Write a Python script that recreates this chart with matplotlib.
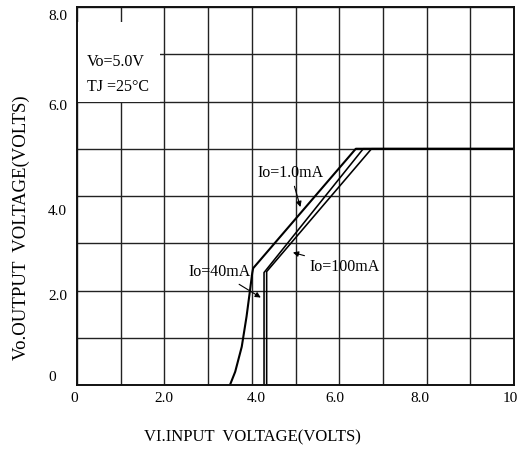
import matplotlib
matplotlib.use("Agg")
import matplotlib.pyplot as plt
from matplotlib.patches import Rectangle

# Vo vs Vi for three load currents
vin_1ma = [3.50, 3.62, 3.77, 3.88, 3.96, 4.01, 4.03, 6.38, 10.0]
vo_1ma = [0.0, 0.28, 0.81, 1.45, 2.01, 2.37, 2.47, 5.0, 5.0]

vin_40ma = [4.28, 4.28, 6.55, 10.0]
vo_40ma = [0.0, 2.38, 5.0, 5.0]

vin_100ma = [4.34, 4.34, 6.74, 10.0]
vo_100ma = [0.0, 2.40, 5.0, 5.0]

xticklabels = ["0", "2.0", "4.0", "6.0", "8.0", "10"]
yticklabels = ["0", "2.0", "4.0", "6.0", "8.0"]

# where the scanned labels actually sit (they are a bit off the grid)
xlabel_pos = [-0.07, 1.99, 4.11, 5.90, 7.85, 9.91]
ylabel_pos = [0.16, 1.87, 3.67, 5.885, 7.79]

plt.rcParams["font.family"] = ["Liberation Serif", "DejaVu Serif"]

fig = plt.figure(figsize=(5.22, 4.49), dpi=100)
ax = fig.add_axes([77 / 522, 1 - 385 / 449, 437 / 522, 378 / 449])

ax.set_xlim(0, 10)
ax.set_ylim(0, 8)
ax.set_xticks(range(0, 11))
ax.set_yticks(range(0, 9))
ax.set_xticklabels([])
ax.set_yticklabels([])
ax.tick_params(length=0)
ax.grid(True, color="#222222", linewidth=1.0)
for s in ax.spines.values():
    s.set_linewidth(1.4)
    s.set_color("#111111")
    s.set_zorder(5)

for x, lab in zip(xlabel_pos, xticklabels):
    ax.text(x, -0.28, lab, ha="center", va="center", fontsize=11, clip_on=False)
for y, lab in zip(ylabel_pos, yticklabels):
    if lab == "0":
        ax.text(-0.57, y, lab, ha="center", va="center", fontsize=11)
    else:
        ax.text(-0.23, y, lab, ha="right", va="center", fontsize=11)

ax.plot(vin_1ma, vo_1ma, color="black", linewidth=1.5, zorder=3)
ax.plot(vin_40ma, vo_40ma, color="black", linewidth=1.15, zorder=3)
ax.plot(vin_100ma, vo_100ma, color="black", linewidth=1.15, zorder=3)

# white patch behind the conditions text
ax.add_patch(Rectangle((0, 6.0), 1.9, 1.69, facecolor="white", edgecolor="none", zorder=2))
ax.text(0.22, 6.84, "Vo=5.0V", fontsize=11.5, va="center", ha="left", zorder=4)
ax.text(0.22, 6.30, "TJ =25°C", fontsize=11.5, va="center", ha="left", zorder=4)

arrow = dict(arrowstyle="-|>", color="black", lw=0.8, mutation_scale=8)
ax.annotate("Io=1.0mA", xy=(5.13, 3.71), xytext=(4.13, 4.49), fontsize=11.5,
            va="center", ha="left", arrowprops=arrow, zorder=4)
ax.annotate("Io=40mA", xy=(4.26, 1.82), xytext=(2.54, 2.39), fontsize=11.5,
            va="center", ha="left", arrowprops=arrow, zorder=4)
ax.annotate("Io=100mA", xy=(4.88, 2.82), xytext=(5.33, 2.5), fontsize=11.5,
            va="center", ha="left", arrowprops=arrow, zorder=4)

fig.text(21 / 522, 1 - 228 / 449, "Vo.OUTPUT  VOLTAGE(VOLTS)", rotation=90,
         ha="center", va="center", fontsize=13.5)
fig.text(252 / 522, 1 - 437 / 449, "VI.INPUT  VOLTAGE(VOLTS)",
         ha="center", va="center", fontsize=12)

fig.savefig("out.png", dpi=100)
